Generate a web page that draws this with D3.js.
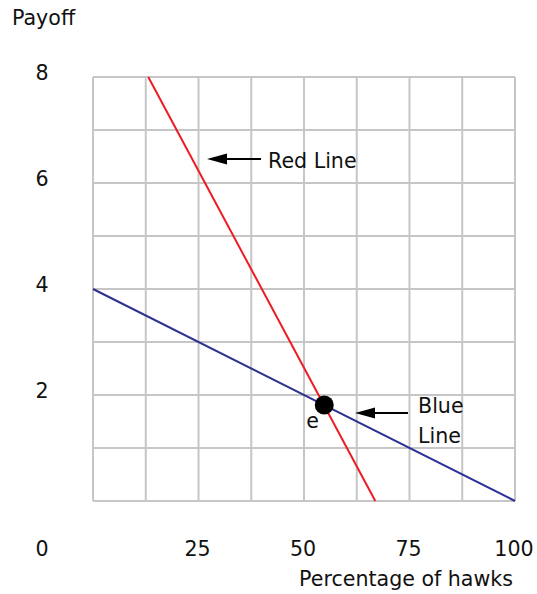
<!DOCTYPE html>
<html>
<head>
<meta charset="utf-8">
<script src="https://cdn.jsdelivr.net/npm/d3@7"></script>
<style>
  html, body { margin: 0; padding: 0; background: #fff; }
  svg { display: block; }
  text { font-family: "DejaVu Sans", sans-serif; fill: #111; }
</style>
</head>
<body>
<svg id="chart" width="537" height="594"></svg>
<script>
// ---- data ----
const xTicks = [25, 50, 75, 100];
const yTicks = [2, 4, 6, 8];
const originLabel = "0";
const xGrid = [0, 12.5, 25, 37.5, 50, 62.5, 75, 87.5, 100];
const yGrid = [0, 1, 2, 3, 4, 5, 6, 7, 8];
const redLine = [{x: 13.1, y: 8}, {x: 66.9, y: 0}];
const blueLine = [{x: 0, y: 4}, {x: 100, y: 0}];
const equilibrium = {x: 54.8, y: 1.81, label: "e"};
const xTitle = "Percentage of hawks";
const yTitle = "Payoff";
const redLabel = "Red Line";
const blueLabel = ["Blue", "Line"];

// ---- layout ----
const FS = 20.6;
const svg = d3.select("#chart");
const x = d3.scaleLinear().domain([0, 100]).range([93, 515]);
const y = d3.scaleLinear().domain([0, 8]).range([501, 77]);

// grid
const g = svg.append("g");
g.selectAll("line.v").data(xGrid).join("line")
  .attr("x1", d => x(d)).attr("x2", d => x(d))
  .attr("y1", y(0)).attr("y2", y(8))
  .attr("stroke", "#c6c6c6").attr("stroke-width", 2);
g.selectAll("line.h").data(yGrid).join("line")
  .attr("y1", d => y(d)).attr("y2", d => y(d))
  .attr("x1", x(0)).attr("x2", x(100))
  .attr("stroke", "#c6c6c6").attr("stroke-width", 2);

// lines
const line = d3.line().x(d => x(d.x)).y(d => y(d.y));
svg.append("path").datum(blueLine).attr("d", line)
  .attr("fill", "none").attr("stroke", "#2e3192").attr("stroke-width", 2);
svg.append("path").datum(redLine).attr("d", line)
  .attr("fill", "none").attr("stroke", "#ed1c24").attr("stroke-width", 2);

// equilibrium point
svg.append("circle").attr("cx", x(equilibrium.x)).attr("cy", y(equilibrium.y))
  .attr("r", 9.5).attr("fill", "#000");
svg.append("text").attr("x", x(equilibrium.x) - 18).attr("y", y(equilibrium.y) + 23)
  .attr("font-size", FS).text(equilibrium.label);

// tick labels
svg.selectAll("text.yt").data(yTicks).join("text")
  .attr("x", 42).attr("y", d => y(d) + 3)
  .attr("text-anchor", "middle").attr("font-size", FS).text(d => d);
svg.selectAll("text.xt").data(xTicks).join("text")
  .attr("x", d => x(d) - 1).attr("y", 556)
  .attr("text-anchor", "middle").attr("font-size", FS).text(d => d);
svg.append("text").attr("x", 42).attr("y", 556)
  .attr("text-anchor", "middle").attr("font-size", FS).text(originLabel);

// titles
svg.append("text").attr("x", 12).attr("y", 25).attr("font-size", FS).text(yTitle);
svg.append("text").attr("x", 513).attr("y", 586).attr("text-anchor", "end")
  .attr("font-size", FS).text(xTitle);

// arrows
function arrow(x1, x2, yy) {
  svg.append("line").attr("x1", x1).attr("x2", x2 + 15).attr("y1", yy).attr("y2", yy)
    .attr("stroke", "#000").attr("stroke-width", 2);
  svg.append("path")
    .attr("d", `M${x2},${yy} L${x2 + 20},${yy - 5.5} L${x2 + 20},${yy + 5.5} Z`)
    .attr("fill", "#000");
}
arrow(261, 207, 159);
arrow(408, 355, 413);

svg.append("text").attr("x", 268).attr("y", 168).attr("font-size", FS).text(redLabel);
svg.append("text").attr("x", 418).attr("y", 413).attr("font-size", FS).text(blueLabel[0]);
svg.append("text").attr("x", 418).attr("y", 443).attr("font-size", FS).text(blueLabel[1]);
</script>
</body>
</html>
